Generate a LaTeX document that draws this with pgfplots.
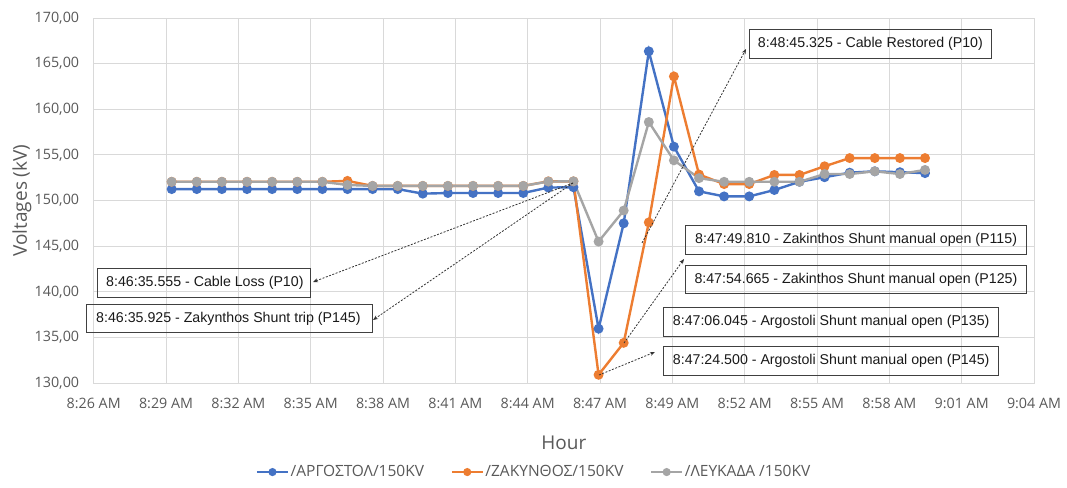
\documentclass[border=0pt]{standalone}
\usepackage{pgfplots}
\pgfplotsset{compat=1.18}
\usepackage{fontspec}
\setmainfont{Open Sans}
\newfontfamily\arialfont{Liberation Sans}
\usetikzlibrary{arrows.meta}
\definecolor{cblue}{HTML}{4472C4}
\definecolor{corange}{HTML}{ED7D31}
\definecolor{cgray}{HTML}{A5A5A5}
\definecolor{gridc}{HTML}{D9D9D9}
\definecolor{txtc}{HTML}{595959}
\begin{document}
\begin{tikzpicture}[x=1pt,y=1pt]
\path[use as bounding box] (-93.7,-104) rectangle (973.3,383);
\begin{axis}[
  at={(0,0)}, anchor=south west,
  scale only axis, width=940.3pt, height=365pt,
  xmin=-3.106, xmax=34.3405, ymin=130, ymax=170,
  xtick={-3.106,-0.2255,2.655,5.5355,8.416,11.2965,14.177,17.0575,19.938,22.8185,25.699,28.5795,31.46,34.3405},
  xticklabels={8:26 AM,8:29 AM,8:32 AM,8:35 AM,8:38 AM,8:41 AM,8:44 AM,8:47 AM,8:49 AM,8:52 AM,8:55 AM,8:58 AM,9:01 AM,9:04 AM},
  ytick={130,135,...,170},
  grid=major, grid style={gridc, line width=0.9pt},
  axis line style={gridc, line width=0.9pt},
  major tick length=0pt,
  /pgf/number format/.cd, fixed, fixed zerofill, precision=2, use comma, 1000 sep={}, assume math mode=true,
  /pgfplots/.cd,
  tick label style={text=txtc, font=\fontsize{14.3}{16}\selectfont},
  yticklabel style={anchor=east, inner sep=0pt, xshift=-14.4pt},
  xticklabel style={anchor=north, inner sep=0pt, yshift=-15.3pt},
  ylabel={Voltages (kV)},
  ylabel style={at={(axis description cs:-0.0763,0.5)}, anchor=center, text=txtc, font=\fontsize{19}{22}\selectfont},
  xlabel={Hour},
  xlabel style={at={(axis description cs:0.5,-0.1644)}, anchor=center, text=txtc, font=\fontsize{19}{22}\selectfont},
  legend columns=3,
  legend style={at={(axis description cs:0.468,-0.244)}, anchor=center, draw=none, fill=none,
    font=\fontsize{15.5}{18}\selectfont, text=txtc,
    /tikz/every even column/.append style={column sep=25pt},
    nodes={inner sep=1.5pt}},
  legend image code/.code={\draw[mark repeat=2,mark phase=2,#1,mark size=2.8pt] plot coordinates {(0pt,0pt) (15.5pt,0pt) (31pt,0pt)};},
  every axis plot/.append style={line width=2.4pt, mark=*, mark size=3.7pt},
]
\addplot[cblue, mark options={fill=cblue, draw=cblue}] coordinates {
(0,151.25) (1,151.25) (2,151.25) (3,151.25) (4,151.25) (5,151.25) (6,151.25) (7,151.25) (8,151.25) (9,151.25)
(10,150.75) (11,150.82) (12,150.82) (13,150.82) (14,150.82) (15,151.42) (16,151.45)
(17,135.95) (18,147.5) (19,166.35) (20,155.9) (21,151.0) (22,150.45) (23,150.45) (24,151.15)
(25,152.05) (26,152.55) (27,153.05) (28,153.2) (29,153.1) (30,153.0)};
\addlegendentry{/ΑΡΓΟΣΤΟΛ/150KV}
\addplot[corange, mark options={fill=corange, draw=corange}] coordinates {
(0,152.05) (1,152.05) (2,152.05) (3,152.05) (4,152.05) (5,152.05) (6,152.05) (7,152.15)
(8,151.6) (9,151.6) (10,151.6) (11,151.6) (12,151.6) (13,151.6) (14,151.6) (15,152.1) (16,152.1)
(17,130.9) (18,134.4) (19,147.6) (20,163.6) (21,152.85) (22,151.8) (23,151.8) (24,152.8)
(25,152.8) (26,153.75) (27,154.65) (28,154.65) (29,154.65) (30,154.65)};
\addlegendentry{/ΖΑΚΥΝΘΟΣ/150KV}
\addplot[cgray, mark options={fill=cgray, draw=cgray}] coordinates {
(0,152.05) (1,152.05) (2,152.05) (3,152.05) (4,152.05) (5,152.05) (6,152.05) (7,151.7)
(8,151.6) (9,151.6) (10,151.6) (11,151.6) (12,151.6) (13,151.6) (14,151.6) (15,152.08) (16,152.1)
(17,145.5) (18,148.9) (19,158.6) (20,154.4) (21,152.45) (22,152.05) (23,152.05) (24,152.05)
(25,152.05) (26,152.9) (27,152.9) (28,153.2) (29,152.9) (30,153.35)};
\addlegendentry{/ΛΕΥΚΑΔΑ /150KV}
\end{axis}
\tikzset{
  annbox/.style={draw=black!75, line width=0.8pt},
  anntext/.style={anchor=west, inner sep=0pt, font=\arialfont\fontsize{14.2}{16}\selectfont, text=black!90},
  annarrow/.style={-{Stealth[length=5pt,width=4pt]}, dash pattern=on 2pt off 1.5pt, line width=0.8pt, black!80}
}
\draw[annbox] (3.6,85.7) rectangle (217,114.7);
\node[anntext] at (12.3,100.2) {8:46:35.555 - Cable Loss (P10)};
\draw[annbox] (-7,50.3) rectangle (278.3,78.7);
\node[anntext] at (2.3,64.5) {8:46:35.925 - Zakynthos Shunt trip (P145)};
\draw[annbox] (655.3,324.7) rectangle (898,353.7);
\node[anntext] at (664,339.2) {8:48:45.325 - Cable Restored (P10)};
\draw[annbox] (591.3,128.7) rectangle (933,157.3);
\node[anntext] at (601.3,143) {8:47:49.810 - Zakinthos Shunt manual open (P115)};
\draw[annbox] (591.3,89.7) rectangle (933,117.3);
\node[anntext] at (600.6,103.5) {8:47:54.665 - Zakinthos Shunt manual open (P125)};
\draw[annbox] (569.6,47) rectangle (904.6,75.3);
\node[anntext] at (579,61.2) {8:47:06.045 - Argostoli Shunt manual open (P135)};
\draw[annbox] (569.6,7.7) rectangle (904.6,36.3);
\node[anntext] at (579,22) {8:47:24.500 - Argostoli Shunt manual open (P145)};
\draw[annarrow] (479.3,200) -- (219.3,101);
\draw[annarrow] (479.3,200) -- (279.3,63);
\draw[annarrow] (548.3,140) -- (652.3,334);
\draw[annarrow] (505.3,8) -- (561.3,31);
\draw[annarrow] (530.3,40) -- (590.3,124);
\end{tikzpicture}
\end{document}
